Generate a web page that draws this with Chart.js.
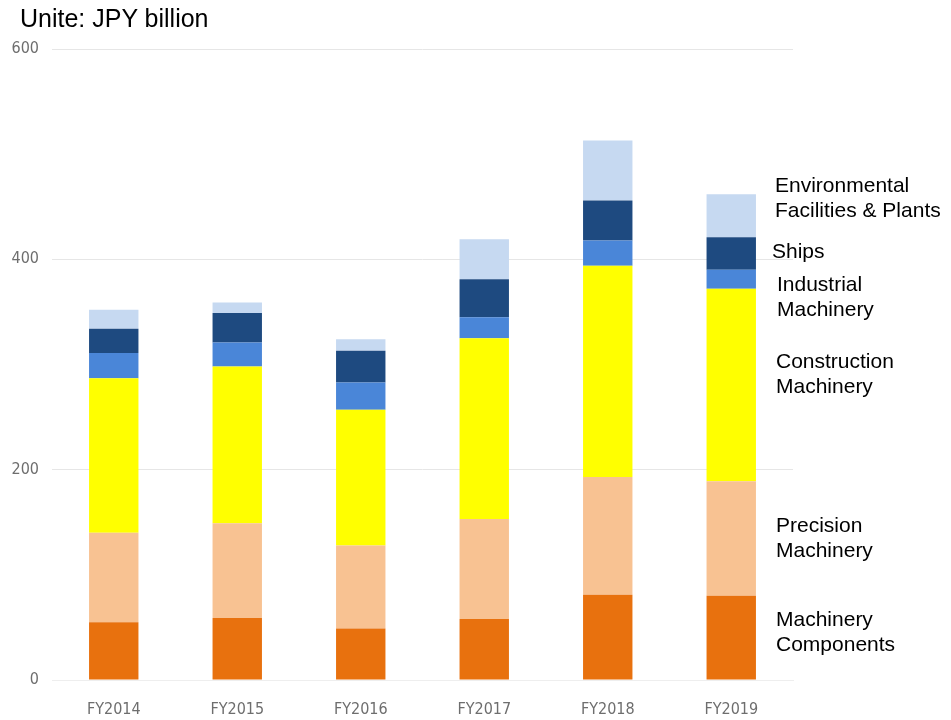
<!DOCTYPE html>
<html lang="en">
<head>
  <meta charset="UTF-8" />
  <title>Orders by Segment</title>
  <script src="https://cdn.jsdelivr.net/npm/chart.js"></script>
  <style>
    body {
      margin: 0;
      background: #ffffff;
    }

    .wrap {
      position: relative;
      width: 951px;
      height: 720px;
    }

    .unit {
      position: absolute;
      left: 20px;
      top: 4px;
      font-family: 'Liberation Sans', Arial, sans-serif;
      font-size: 25px;
      color: #000;
    }
  </style>
</head>
<body>
  <div class="wrap">
    <div class="unit">Unite: JPY billion</div>
    <canvas id="segChart" width="951" height="720"></canvas>
  </div>

  <script>
    const years = ['FY2014', 'FY2015', 'FY2016', 'FY2017', 'FY2018', 'FY2019'];

    // segment values, JPY billion (stacked bottom to top)
    const machineryComponents = [55, 59, 49, 58, 81, 80];
    const precisionMachinery = [85, 90, 79, 95, 112, 109];
    const constructionMachinery = [147, 149, 129, 172, 201, 183];
    const industrialMachinery = [24, 23, 26, 20, 24, 18];
    const ships = [23, 28, 30, 36, 38, 31];
    const envPlants = [18, 10, 11, 38, 57, 41];

    const yTicks = [0, 200, 400, 600];

    // side labels: lines of text and their baselines
    const sideLabels = [
      { lines: ['Environmental', 'Facilities & Plants'], x: 775, y: 192 },
      { lines: ['Ships'], x: 772, y: 258 },
      { lines: ['Industrial', 'Machinery'], x: 777, y: 291 },
      { lines: ['Construction', 'Machinery'], x: 776, y: 368 },
      { lines: ['Precision', 'Machinery'], x: 776, y: 532 },
      { lines: ['Machinery', 'Components'], x: 776, y: 626 }
    ];

    const sideLabelPlugin = {
      id: 'sideLabels',
      afterDraw(chart) {
        const ctx = chart.ctx;
        ctx.save();
        ctx.fillStyle = '#000';
        ctx.font = '21px "Liberation Sans", Arial, sans-serif';
        ctx.textBaseline = 'alphabetic';
        ctx.textAlign = 'left';
        sideLabels.forEach(l => {
          l.lines.forEach((line, i) => ctx.fillText(line, l.x, l.y + i * 25));
        });
        ctx.restore();
      }
    };

    const tickFont = { family: '"Liberation Sans Narrow", "DejaVu Sans Condensed", sans-serif', size: 16 };

    new Chart(document.getElementById('segChart'), {
      type: 'bar',
      data: {
        labels: years,
        datasets: [
          { label: 'Machinery Components', data: machineryComponents, backgroundColor: '#E8710E' },
          { label: 'Precision Machinery', data: precisionMachinery, backgroundColor: '#F8C292' },
          { label: 'Construction Machinery', data: constructionMachinery, backgroundColor: '#FFFF00' },
          { label: 'Industrial Machinery', data: industrialMachinery, backgroundColor: '#4A86D8' },
          { label: 'Ships', data: ships, backgroundColor: '#1E4A80' },
          { label: 'Environmental Facilities & Plants', data: envPlants, backgroundColor: '#C6D9F1' }
        ]
      },
      options: {
        responsive: false,
        animation: false,
        barPercentage: 0.8,
        categoryPercentage: 0.5,
        layout: { padding: { top: 49, right: 158, bottom: 0, left: 0 } },
        plugins: {
          legend: { display: false },
          tooltip: { enabled: false }
        },
        scales: {
          x: {
            stacked: true,
            grid: { display: false, drawTicks: false },
            border: { color: '#eeeeee' },
            ticks: { color: '#6e6e6e', font: tickFont, padding: 20 },
            afterFit(scale) { scale.height = 40; }
          },
          y: {
            stacked: true,
            min: 0,
            max: 600,
            afterBuildTicks(scale) { scale.ticks = yTicks.map(v => ({ value: v })); },
            grid: { color: '#e6e6e6', drawTicks: false },
            border: { display: false },
            ticks: { color: '#6e6e6e', font: tickFont, padding: 13 },
            afterFit(scale) { scale.width = 52; }
          }
        }
      },
      plugins: [sideLabelPlugin]
    });
  </script>
</body>
</html>
